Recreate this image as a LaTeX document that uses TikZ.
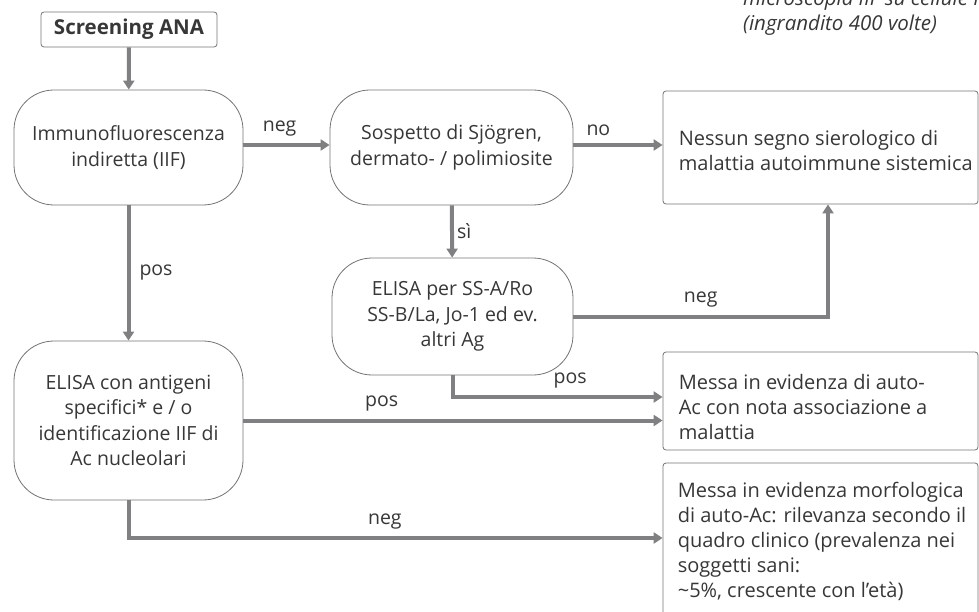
\documentclass[tikz,border=0pt]{standalone}
\usepackage{fontspec}
\setmainfont{Open Sans}
\usetikzlibrary{arrows.meta}
\definecolor{flowgray}{RGB}{128,128,130}
\definecolor{framegray}{RGB}{115,115,115}
\definecolor{inkgray}{RGB}{55,55,55}
\tikzset{>={Triangle[length=9pt,width=11pt]}}

\begin{document}
\begin{tikzpicture}[x=1pt, y=-1pt,
    font=\fontsize{19.5}{25.5}\selectfont, text=inkgray,
    test/.style={draw=framegray, line width=0.8pt, rounded corners=40pt,
      align=center, minimum width=229pt, minimum height=115pt, inner sep=2pt},
    result/.style={draw=framegray, line width=0.8pt, rounded corners=3pt,
      minimum width=315pt},
    restxt/.style={anchor=west, align=left, inner sep=0pt,
      font=\fontsize{20}{25}\selectfont},
    flow/.style={draw=flowgray, line width=4pt, ->},
    lbl/.style={text=inkgray, inner sep=3pt}]
    \useasboundingbox (0,0) rectangle (979,612);
    \clip (0,0) rectangle (979,612);
    % caption of the micrograph, cut by the page edge
    \node[anchor=south west, align=left, inner sep=0pt,
      font=\fontsize{20.5}{25}\selectfont\itshape] (caption) at (743,35.5)
      {microscopia IIF su cellule HEp-2\\(ingrandito 400 volte)};
    % tests
    \node[result, font=\fontsize{20.5}{25}\selectfont\bfseries,
      minimum width=176pt, minimum height=35pt] (screen) at (129,29.5) {Screening ANA};
    \node[test] (iif) at (128.5,147.5) {Immunofluorescenza\\indiretta (IIF)};
    \node[test, minimum width=243pt] (sjo) at (451.5,147.5) {Sospetto di Sjögren,\\dermato- / polimiosite};
    \node[test, minimum width=241pt, minimum height=117pt] (elisass) at (452.5,316.5)
      {ELISA per SS-A/Ro\\SS-B/La, Jo-1 ed ev.\\altri Ag};
    \node[test, minimum height=159pt] (elisaag) at (128.5,420.5)
      {ELISA con antigeni\\specifici* e / o\\identificazione IIF di\\Ac nucleolari};
    % results
    \node[result, minimum height=113pt] (nessun) at (820.5,147.5) {};
    \node[restxt] (nessuntxt) at ([xshift=16pt,yshift=-3pt]nessun.west)
      {Nessun segno sierologico di\\malattia autoimmune sistemica};
    \node[result, minimum height=98pt] (auto) at (820.5,401) {};
    \node[restxt] (autotxt) at ([xshift=16pt,yshift=-5.5pt]auto.west)
      {Messa in evidenza di auto-\\Ac con nota associazione a\\malattia};
    \node[result, minimum height=160pt] (morfo) at (820.5,543) {};
    \node[restxt] (morfotxt) at ([xshift=15pt,yshift=2pt]morfo.west)
      {Messa in evidenza morfologica\\di auto-Ac: rilevanza secondo il\\quadro clinico (prevalenza nei\\soggetti sani:\\\textasciitilde 5\%, crescente con l'età)};
    % connectors
    \draw[flow] (screen) -- (iif);
    \draw[flow] ([yshift=2.5pt]iif.east) -- ([yshift=2.5pt]sjo.west) node[lbl, pos=0.42, above=4pt] {neg};
    \draw[flow] ([yshift=2.5pt]sjo.east) -- ([yshift=2.5pt]nessun.west) node[lbl, pos=0.28, above=4pt] {no};
    \draw[flow] (sjo) -- (elisass) node[lbl, midway, right] {sì};
    \draw[flow] (iif) -- (elisaag) node[lbl, midway, right=6pt] {pos};
    \draw[flow] (elisass.east) -| ([xshift=7.5pt]nessun.south) node[lbl, pos=0.25, above=4pt] {neg};
    \draw[flow] (elisass.south) |- ([yshift=4pt]auto.west) node[lbl, pos=0.78, above=4pt] {pos};
    \draw[flow] (elisaag.east) -- (elisaag.east -| auto.west) node[lbl, pos=0.33, above=4pt] {pos};
    \draw[flow] (elisaag.south) |- ([yshift=5pt]morfo.west) node[lbl, pos=0.74, above=4pt] {neg};
\end{tikzpicture}
\end{document}
